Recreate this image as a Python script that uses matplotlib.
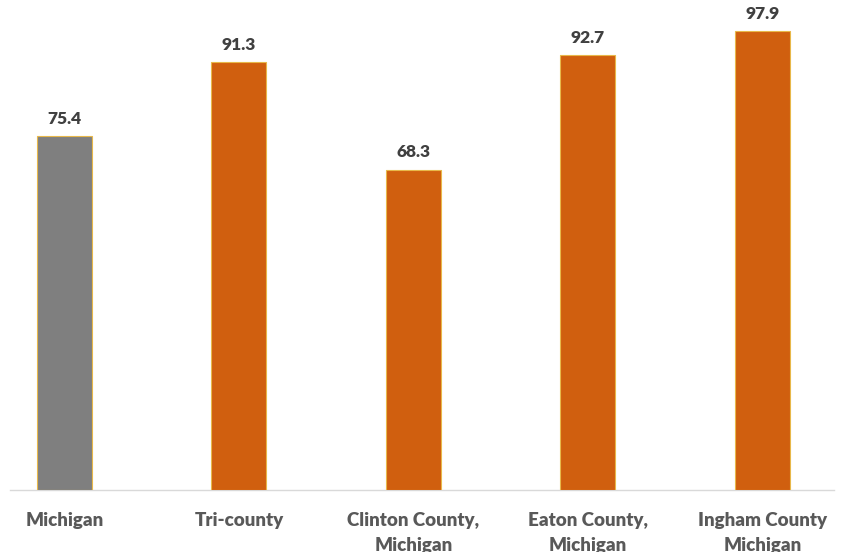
import matplotlib.pyplot as plt

categories = ["Michigan", "Tri-county", "Clinton County,\nMichigan",
              "Eaton County,\nMichigan", "Ingham County\nMichigan"]
values = [75.4, 91.3, 68.3, 92.7, 97.9]
colors = ["#7F7F7F", "#D05F0F", "#D05F0F", "#D05F0F", "#D05F0F"]

plt.rcParams["font.family"] = ["Lato", "DejaVu Sans"]

fig = plt.figure(figsize=(8.44, 5.52), dpi=100)
ax = fig.add_axes([10 / 844, 62 / 552, 824 / 844, 490 / 552])

x = range(len(categories))
bars = ax.bar(x, values, width=0.315, color=colors,
              edgecolor="#E8B84A", linewidth=0.8, zorder=3)

for b, v in zip(bars, values):
    ax.text(b.get_x() + b.get_width() / 2, v + 2.0, f"{v:.1f}",
            ha="center", va="bottom", fontsize=12.5, fontweight="heavy",
            color="#404040")

ax.set_xlim(-0.312, 4.41)
ax.set_ylim(0, 104.5)
ax.set_xticks(list(x))
ax.set_xticklabels(categories, fontsize=13.5, fontweight="heavy",
                   color="#595959", va="top", linespacing=1.55)
ax.tick_params(axis="x", length=0, pad=16)
ax.set_yticks([])
for s in ["top", "right", "left"]:
    ax.spines[s].set_visible(False)
ax.spines["bottom"].set_color("#D9D9D9")
ax.spines["bottom"].set_linewidth(1)

fig.savefig("out.png", dpi=100)
